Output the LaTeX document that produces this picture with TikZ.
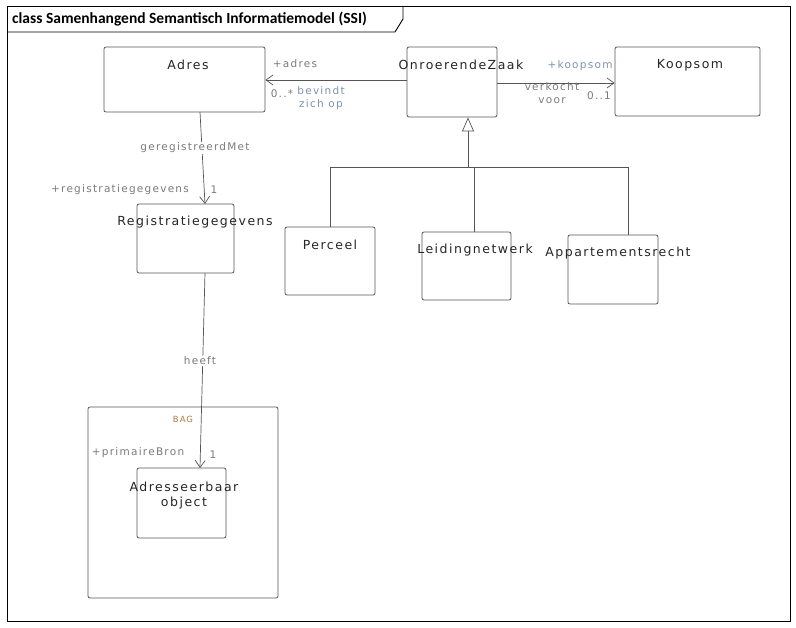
\documentclass[tikz,border=0pt]{standalone}
\usepackage{fontspec}
\setmainfont{DejaVu Sans}
\newfontfamily\titlefont{Carlito}
\newfontfamily\handA[LetterSpace=12]{DejaVu Sans}
\usetikzlibrary{arrows.meta}
\definecolor{linec}{HTML}{555555}
\definecolor{rolec}{HTML}{7A7A7A}
\definecolor{namec}{HTML}{7E92AE}
\definecolor{bagc}{HTML}{B07A40}
\tikzset{
  cls/.style={draw=linec, line width=0.8pt, rounded corners=2pt, fill=white, inner sep=0pt},
  clslabel/.style={font=\handA\fontsize{12.5}{15}\selectfont, text=black!85, inner sep=0pt},
  role/.style={font=\handA\fontsize{10.5}{13}\selectfont, text=rolec, inner sep=0pt},
  aname/.style={font=\handA\fontsize{10.5}{13}\selectfont, text=namec, inner sep=0pt, align=center},
  assoc/.style={draw=linec, line width=0.7pt, -{Straight Barb[length=7pt,width=10pt]}},
  gen/.style={draw=linec, line width=0.7pt, -{Triangle[open,length=14pt,width=12pt,fill=white]}},
  plain/.style={draw=linec, line width=0.7pt},
}
\begin{document}
\begin{tikzpicture}[x=1pt,y=-1pt]
\useasboundingbox (0,0) rectangle (796,628);
% frame
\node (frame) [draw=black, line width=0.9pt, minimum width=783, minimum height=615, inner sep=0pt] at (398.5,313.5) {};
\draw[black, line width=0.9pt] (7,32) -- (395,32) -- (403,19) -- (403,6);
\node (title) [anchor=west, font=\titlefont\bfseries\fontsize{15.5}{18}\selectfont, inner sep=0pt] at (12,19) {class Samenhangend Semantisch Informatiemodel (SSI)};

% BAG package
\node (bag) [cls, minimum width=190, minimum height=191] at (183,502.5) {};
\node (bagL) [font=\handA\fontsize{8.5}{10}\selectfont, text=bagc, inner sep=0pt] at (183,419) {BAG};

% classes
\node (adres) [cls, minimum width=161, minimum height=65] at (184.5,79.5) {};
\node (adresL) [clslabel] at (188,65) {Adres};
\node (oz) [cls, minimum width=90, minimum height=70] at (452,82) {};
\node (ozL) [clslabel] at (461,65) {OnroerendeZaak};
\node (koop) [cls, minimum width=145, minimum height=69] at (687.5,81.5) {};
\node (koopL) [clslabel] at (690,65) {Koopsom};
\node (reg) [cls, minimum width=97, minimum height=69] at (185.5,238.5) {};
\node (regL) [clslabel] at (195,222) {Registratiegegevens};
\node (perc) [cls, minimum width=90, minimum height=68] at (330,261) {};
\node (percL) [clslabel] at (330,245) {Perceel};
\node (leid) [cls, minimum width=89, minimum height=68] at (466.5,266) {};
\node (leidL) [clslabel] at (475,250) {Leidingnetwerk};
\node (app) [cls, minimum width=90, minimum height=69] at (613,269.5) {};
\node (appL) [clslabel] at (618,253) {Appartementsrecht};
\node (ao) [cls, minimum width=89, minimum height=70] at (181.5,503) {};
\node (aoL) [clslabel, align=center] at (184,496) {Adresseerbaar\\object};

% associations
\coordinate (ozW) at (407,80);
\draw[assoc] (ozW) -- (ozW -| adres.east);
\node (r1) [role] at (295,64) {+adres};
\node (m1) [role] at (282,94) {0..*};
\node (n1) [aname] at (321,98) {bevindt\\zich op};

\coordinate (ozE) at (497,83);
\draw[assoc] (ozE) -- (ozE -| koop.west);
\node (r2) [role, text=namec] at (580,66) {+koopsom};
\node (m2) [role] at (599,96) {0..1};
\node (n2) [aname, text=rolec] at (552,93) {verkocht\\voor};

\coordinate (adS) at (200,112);
\coordinate (regN) at (205,204);
\draw[assoc] (adS) -- (regN);
\node (n3) [aname, text=rolec, fill=white, inner sep=1pt] at (195,148) {geregistreerdMet};
\node (r3) [role] at (120,190) {+registratiegegevens};
\node (m3) [role] at (214,190) {1};

\coordinate (regS) at (205,273);
\coordinate (aoN) at (200,468);
\draw[assoc] (regS) -- (aoN);
\node (n4) [aname, text=rolec, fill=white, inner sep=1pt] at (200,361) {heeft};
\node (r4) [role, fill=white, inner sep=1pt] at (138,453) {+primaireBron};
\node (m4) [role] at (213,455) {1};

% generalization
\coordinate (j) at (468,167);
\coordinate (jl) at (330,167);
\coordinate (jm) at (474,167);
\coordinate (jr) at (628,167);
\draw[gen] (j) -- (j |- oz.south);
\draw[plain] (jl) -- (jr);
\draw[plain] (jl) -- (jl |- perc.north);
\draw[plain] (jm) -- (jm |- leid.north);
\draw[plain] (jr) -- (jr |- app.north);
\end{tikzpicture}
\end{document}
